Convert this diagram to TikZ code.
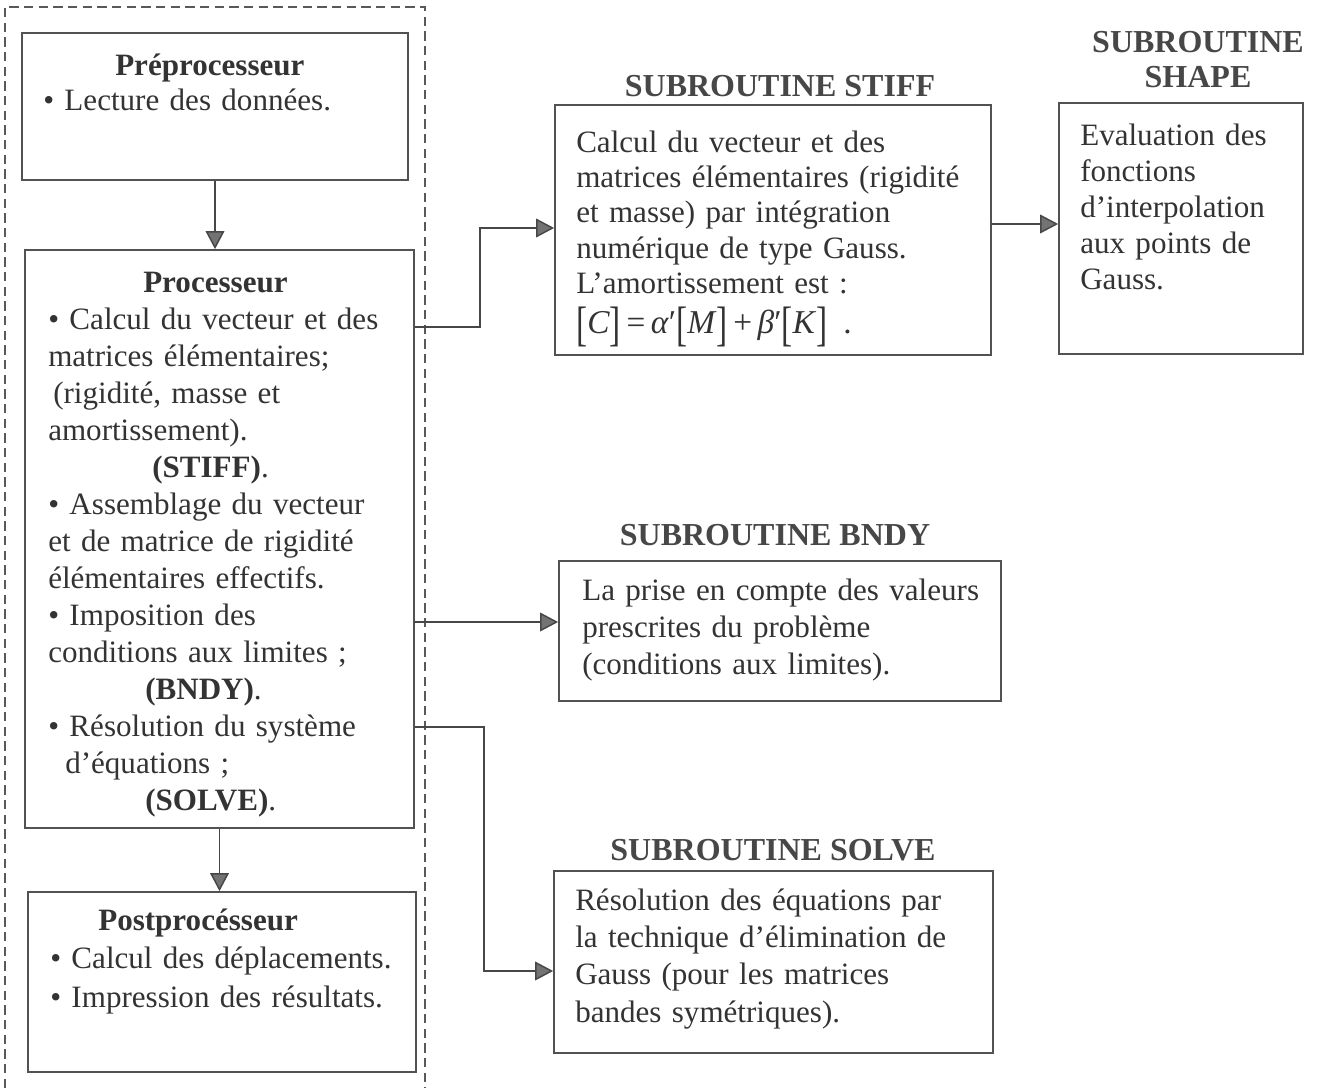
\documentclass[tikz,border=0pt]{standalone}
\usepackage{fontspec}
\setmainfont{Liberation Serif}
\usepackage{graphicx}
\usetikzlibrary{arrows.meta,fit}

% one drawing unit = one pixel of the layout grid
\newdimen\pxu \pxu=0.75pt
\newcommand\ind[1]{\hspace*{#1\pxu}}
\newcommand\tallbr[1]{\raisebox{-0.2em}{\scalebox{1}[1.45]{#1}}}

\begin{document}
\begin{tikzpicture}[x=0.75pt,y=-0.75pt,
  framebox/.style={draw=black!68, line width=1.3pt, inner sep=0pt},
  txt/.style={anchor=base west, inner sep=0pt, align=left, text width=#1, text=black!80},
  bskip/.style={font=\fontsize{23.3}{#1}\selectfont},
  ttl/.style={anchor=base, inner sep=0pt, text=black!72, font=\fontsize{24}{26.25}\selectfont\bfseries},
  conn/.style={draw=black!72, line width=1.1pt,
    -{Triangle[length=13.5pt,width=14pt,fill=black!55]}},
  outerdash/.style={draw=black!65, line width=1.1pt, dash pattern=on 7pt off 4pt}
]
\useasboundingbox (0,0) rectangle (1320,1088);

% dashed frame around the main program
\draw[outerdash] (5,1088) -- (5,7) -- (425,7) -- (425,1088);

% main program blocks
\node[framebox, fit={(22,33) (408,180)}] (pre) {};
\node[framebox, fit={(25,250) (414,828)}] (proc) {};
\node[framebox, fit={(28,892) (416,1072)}] (post) {};

\node[txt=330pt, bskip=26.25] (pretext) at (43,75) {%
\ind{72}\textbf{Préprocesseur}\\
• Lecture des données.};

\node[txt=280pt, bskip=27.75] (proctext) at (48,292) {%
\ind{95}\textbf{Processeur}\\
• Calcul du vecteur et des\\
matrices élémentaires;\\
\ind{5}(rigidité, masse et\\
amortissement).\\
\ind{104}\textbf{(STIFF)}.\\
• Assemblage du vecteur\\
et de matrice de rigidité\\
élémentaires effectifs.\\
• Imposition des\\
conditions aux limites ;\\
\ind{97}\textbf{(BNDY)}.\\
• Résolution du système\\
\ind{17}d’équations ;\\
\ind{97}\textbf{(SOLVE)}.};

\node[txt=300pt, bskip=28.9] (posttext) at (50,930) {%
\ind{48}\textbf{Postprocésseur}\\
• Calcul des déplacements.\\
• Impression des résultats.};

% subroutines
\node[framebox, fit={(555,105) (991,355)}] (stiff) {};
\node[framebox, fit={(1059,103) (1303,354)}] (shape) {};
\node[framebox, fit={(559,561) (1001,701)}] (bndy) {};
\node[framebox, fit={(554,871) (993,1053)}] (solve) {};

\node[ttl] (tstiff) at (780,97) {SUBROUTINE STIFF};
\node[ttl, text width=200pt, align=center] (tshape) at (1198,53) {SUBROUTINE\\SHAPE};
\node[ttl] (tbndy) at (775,545) {SUBROUTINE BNDY};
\node[ttl] (tsolve) at (773,860) {SUBROUTINE SOLVE};

\node[txt=320pt, bskip=26.6] (stifftext) at (576,152) {%
Calcul du vecteur et des\\
matrices élémentaires (rigidité\\
et masse) par intégration\\
numérique de type Gauss.\\
L’amortissement est :\\[3pt]
{\fontsize{25}{27}\selectfont\tallbr{[}\textit{C}\tallbr{]}\,=\,\textit{α}′\tallbr{[}\textit{M}\tallbr{]}\,+\,\textit{β}′\tallbr{[}\textit{K}\tallbr{]}\hspace{12pt}.}};

\node[txt=170pt, bskip=27] (shapetext) at (1080,145) {%
Evaluation des\\
fonctions\\
d’interpolation\\
aux points de\\
Gauss.};

\node[txt=320pt, bskip=27.75] (bndytext) at (582,600) {%
La prise en compte des valeurs\\
prescrites du problème\\
(conditions aux limites).};

\node[txt=320pt, bskip=28.1] (solvetext) at (575,910) {%
Résolution des équations par\\
la technique d’élimination de\\
Gauss (pour les matrices\\
bandes symétriques).};

% connectors
\coordinate (s1) at (480,327);
\coordinate (b1) at (414,622);
\coordinate (v1) at (484,727);
\coordinate (v2) at (484,971);
\coordinate (h1) at (991,224);

\draw[conn] (pre.south) -- (pre.south |- proc.north);
\draw[conn] (proc.south) -- (proc.south |- post.north);
\draw[conn] (proc.east |- s1) -- (s1) |- (stiff.west |- 0,228);
\draw[conn] (h1) -- (h1 -| shape.west);
\draw[conn] (b1) -- (b1 -| bndy.west);
\draw[conn] (proc.east |- v1) -- (v1) -- (v2) -- (v2 -| solve.west);
\end{tikzpicture}
\end{document}
